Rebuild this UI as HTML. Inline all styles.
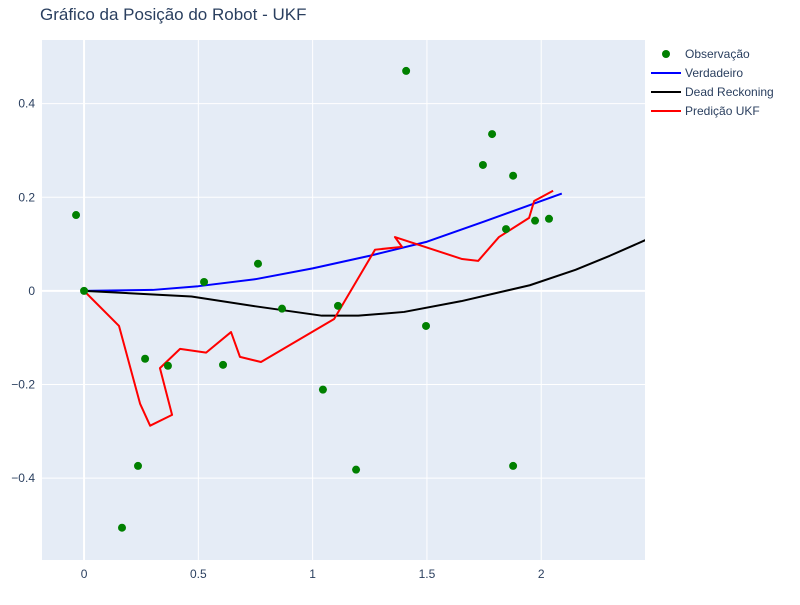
<!DOCTYPE html>
<html><head><meta charset="utf-8"><style>
body{margin:0;background:#fff;font-family:"Liberation Sans",Arial,sans-serif}
svg text{font-family:"Liberation Sans",Arial,sans-serif;fill:#2a3f5f}
</style></head><body>
<svg id="c" width="800" height="600"></svg>
<script>
const obsX=[-0.035,0,0.166,0.236,0.267,0.367,0.525,0.608,0.761,0.866,1.045,1.111,1.190,1.409,1.496,1.745,1.785,1.846,1.877,1.877,1.973,2.034];
const obsY=[0.162,0,-0.506,-0.374,-0.145,-0.160,0.019,-0.158,0.058,-0.038,-0.211,-0.032,-0.382,0.470,-0.075,0.269,0.335,0.132,0.246,-0.374,0.150,0.154];
const trueX=[0,0.3,0.5,0.75,1.0,1.25,1.5,1.75,2.09];
const trueY=[0,0.002,0.01,0.025,0.048,0.075,0.105,0.148,0.208];
const drX=[0,0.47,0.75,1.04,1.2,1.4,1.65,1.95,2.15,2.3,2.5];
const drY=[0,-0.012,-0.033,-0.053,-0.053,-0.045,-0.022,0.012,0.045,0.075,0.118];
const ukfX=[0,0.153,0.245,0.289,0.385,0.332,0.420,0.534,0.643,0.682,0.774,1.094,1.273,1.391,1.360,1.654,1.724,1.815,1.947,1.969,2.052];
const ukfY=[0,-0.075,-0.241,-0.288,-0.265,-0.165,-0.124,-0.132,-0.088,-0.141,-0.152,-0.060,0.088,0.094,0.115,0.068,0.064,0.115,0.156,0.192,0.214];
const xTicks=[0,0.5,1,1.5,2], xLabels=["0","0.5","1","1.5","2"];
const yTicks=[-0.4,-0.2,0,0.2,0.4], yLabels=["−0.4","−0.2","0","0.2","0.4"];
const L=42,R=645,T=40,B=560,x0=-0.184,x1=2.454,y0=-0.575,y1=0.536;
const sx=v=>L+(v-x0)/(x1-x0)*(R-L), sy=v=>B-(v-y0)/(y1-y0)*(B-T);
const NS="http://www.w3.org/2000/svg", svg=document.getElementById('c');
function mk(t,a,p){const e=document.createElementNS(NS,t);for(const k in a)e.setAttribute(k,a[k]);(p||svg).appendChild(e);return e;}
let t=mk('text',{x:40,y:20,'font-size':17});t.textContent='Gráfico da Posição do Robot - UKF';


let bg=mk('rect',{x:L,y:T,width:R-L,height:B-T,fill:'#e5ecf6'});


xTicks.forEach((v,i)=>{let g=mk('line',{x1:sx(v),x2:sx(v),y1:T,y2:B,stroke:'#fff','stroke-width':v===0?2:1});


let l=mk('text',{x:sx(v),y:B+18,'font-size':12,'text-anchor':'middle'});l.textContent=xLabels[i];

});
yTicks.forEach((v,i)=>{let g=mk('line',{x1:L,x2:R,y1:sy(v),y2:sy(v),stroke:'#fff','stroke-width':v===0?2:1});


let l=mk('text',{x:L-7,y:sy(v)+4,'font-size':12,'text-anchor':'end'});l.textContent=yLabels[i];

});
mk('clipPath',{id:'cp'});mk('rect',{x:L,y:T,width:R-L,height:B-T},svg.lastChild);
function line(xs,ys,col,name){let p=mk('polyline',{points:xs.map((v,i)=>sx(v)+','+sy(ys[i])).join(' '),fill:'none',stroke:col,'stroke-width':2,'clip-path':'url(#cp)','stroke-linejoin':'round'});

}
line(trueX,trueY,'#0000ff','verdadeiro-line');
line(drX,drY,'#000','dead-reckoning-line');
line(ukfX,ukfY,'#ff0000','ukf-line');
obsX.forEach((v,i)=>{let c=mk('circle',{cx:sx(v),cy:sy(obsY[i]),r:4,fill:'#008000'});

});
const leg=[['Observação','#008000',1],['Verdadeiro','#0000ff',0],['Dead Reckoning','#000',0],['Predição UKF','#ff0000',0]];
leg.forEach((d,i)=>{const y=54+i*19;let g=mk('g',{});


if(d[2])mk('circle',{cx:666,cy:y,r:4,fill:d[1]},g);else mk('line',{x1:651,x2:681,y1:y,y2:y,stroke:d[1],'stroke-width':2},g);
let l=mk('text',{x:685,y:y+4,'font-size':12},g);l.textContent=d[0];});
</script>
</body></html>
